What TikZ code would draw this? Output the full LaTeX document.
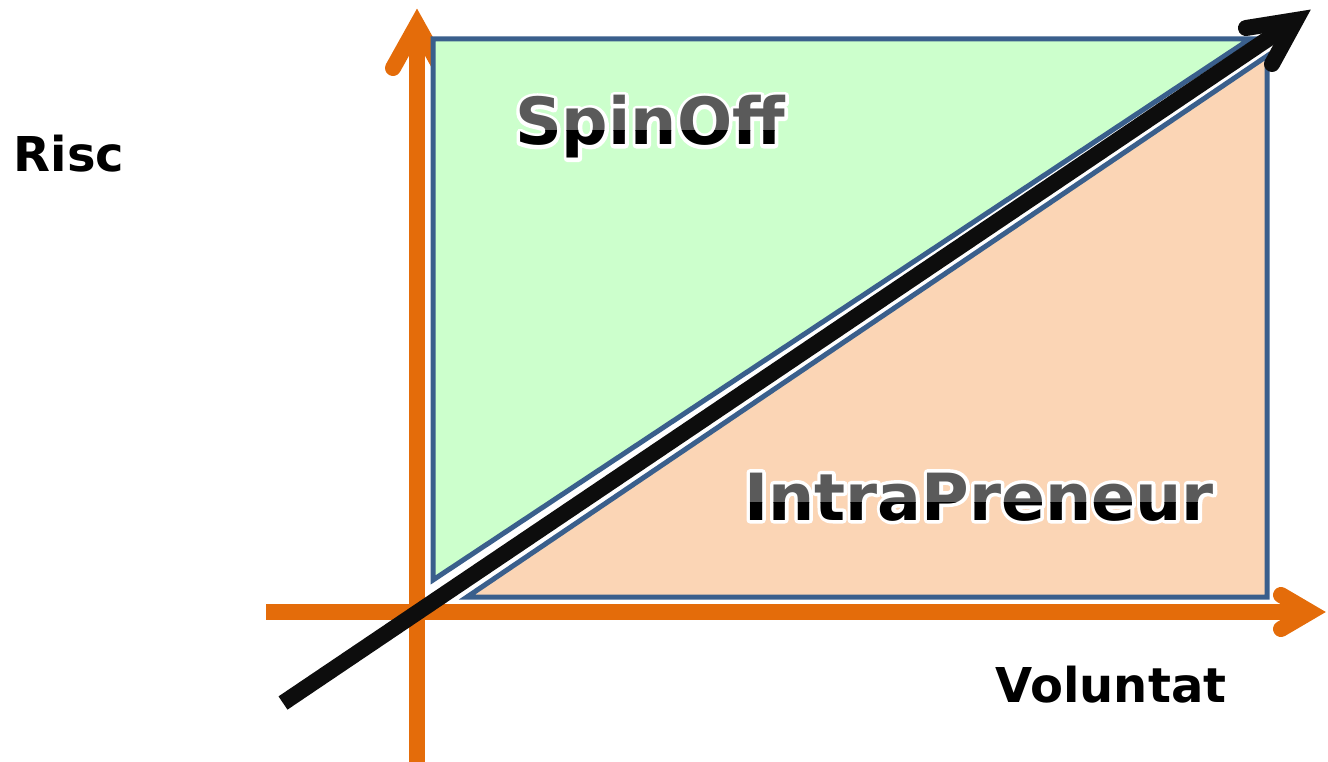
\documentclass[tikz,border=0pt]{standalone}
\usepackage{fontspec}
\setmainfont{DejaVu Sans}
\definecolor{axisorange}{HTML}{E46C0A}
\definecolor{edgeblue}{HTML}{3A5F8C}
\definecolor{spingreen}{HTML}{CCFFCC}
\definecolor{intrapeach}{HTML}{FBD5B5}
\definecolor{arrowblack}{HTML}{0D0D0D}
\definecolor{textgrey}{HTML}{5A5A5A}
\tikzset{
  axisline/.style={draw=axisorange, line width=16pt},
  axishead/.style={draw=axisorange, line width=16pt, line cap=round, line join=miter},
  regionshape/.style={draw=edgeblue, line width=5pt, line join=miter},
  trendline/.style={draw=arrowblack, line width=16pt},
  trendhead/.style={draw=arrowblack, line width=16pt, line cap=round, line join=miter},
  axislabel/.style={font=\bfseries\fontsize{48}{52}\selectfont, anchor=base, inner sep=0pt},
  bigtext/.style={font=\bfseries\fontsize{65}{69}\selectfont, anchor=base, inner sep=0pt},
}
\newcommand{\outlinedtext}[1]{\special{pdf:literal direct 2 Tr 7 w 1 j 1 1 1 RG}#1\special{pdf:literal direct 0 Tr}}
\newcommand{\glowtext}[5]{%
  % #1 name, #2 x, #3 baseline y, #4 split y, #5 text
  \node[bigtext, text=white] (#1) at (#2,#3) {\outlinedtext{#5}};
  \begin{scope}
    \clip (#2-400,#3-100) rectangle (#2+400,#4);
    \node[bigtext, text=textgrey] at (#2,#3) {#5};
  \end{scope}
  \begin{scope}
    \clip (#2-400,#4) rectangle (#2+400,#3+40);
    \node[bigtext, text=black] at (#2,#3) {#5};
  \end{scope}
}
\usetikzlibrary{calc}
\begin{document}
\begin{tikzpicture}[x=1pt,y=-1pt]
\useasboundingbox (0,0) rectangle (1328,762);
% axes
\coordinate (vbot) at (417,762);
\coordinate (vtip) at (417,25);
\coordinate (varmL) at (393,68);
\coordinate (varmR) at (441,68);
\coordinate (hleft) at (266,612);
\coordinate (htip) at (1310,612);
\coordinate (harmU) at (1281,595);
\coordinate (harmD) at (1281,629);
\path[axisline] (vbot) -- (vtip);
\path[axishead] (varmL) -- (vtip) -- (varmR);
\path[axisline] (hleft) -- (htip);
\path[axishead] (harmU) -- (htip) -- (harmD);
% regions
\path[regionshape, fill=spingreen] (433,39) -- (1250,39) -- (433,580) -- cycle;
\path[regionshape, fill=intrapeach] (1267,56) -- (1267,597) -- (467,597) -- cycle;
% trend arrow
\coordinate (tstart) at (283,703);
\coordinate (ttip) at (1296,20);
\coordinate (tarmU) at (1246,28);
\coordinate (tarmD) at (1272,64);
\path[trendline] (tstart) -- (ttip);
\path[trendhead] (tarmU) -- (ttip) -- (tarmD);
% labels
\node[axislabel] (risc) at (69,172) {Risc};
\node[axislabel] (voluntat) at (1111,702) {Voluntat};
\glowtext{spinoff}{650}{145}{131}{SpinOff}
\glowtext{intra}{979}{520}{502}{IntraPreneur}
\end{tikzpicture}
\end{document}
